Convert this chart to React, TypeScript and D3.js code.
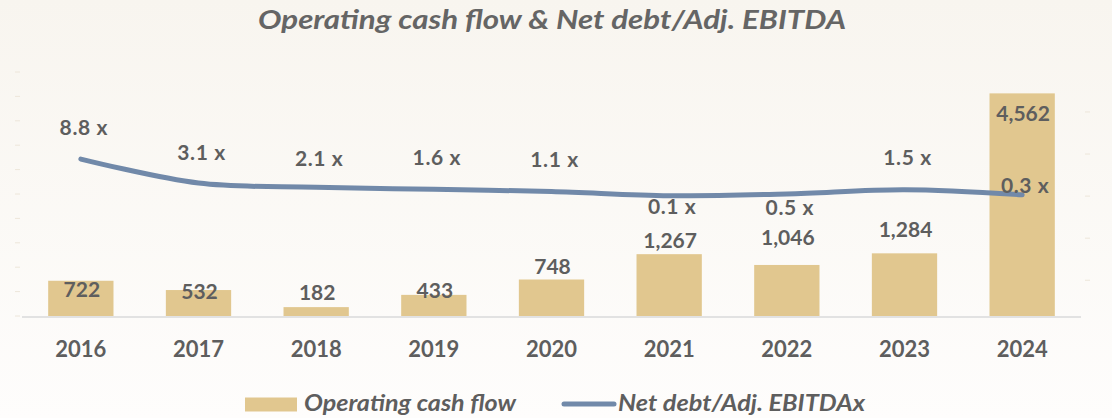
import { useMemo } from "react";
import * as d3 from "d3";

const years = ["2016", "2017", "2018", "2019", "2020", "2021", "2022", "2023", "2024"];
const operatingCashFlow = [722, 532, 182, 433, 748, 1267, 1046, 1284, 4562];
const netDebtEbitda = [8.8, 3.1, 2.1, 1.6, 1.1, 0.1, 0.5, 1.5, 0.3];
const leftTicks = d3.range(0, 5001, 500);
const rightTicks = [-20, -10, 0, 10, 20];

// manual label nudges (px, centre of label relative to bar top / line point)
const barLabelDy = [9, 1, -15, -4, -13, -14, -28, -24, 20];
const lineLabelDy = [-32, -31, -29, -32, -32, 11, 13, -32, -9];

const W = 1112;
const H = 418;
const plot = { left: 22, right: 1081, top: 72, bottom: 316 };
const barColor = "#e1c78f";
const lineColor = "#7189a9";
const textColor = "#5e5e5e";
const font = "Lato, 'Open Sans', sans-serif";

export default function App() {
  const x = useMemo(
    () => d3.scaleBand<string>().domain(years).range([plot.left, plot.right]).paddingInner(0.445).paddingOuter(0.2225),
    []
  );
  const y = d3.scaleLinear().domain([0, 5000]).range([plot.bottom, plot.top]);
  const y2 = d3.scaleLinear().domain([-28.5, 29.5]).range([plot.bottom, plot.top]);

  const cx = (d: string) => (x(d) ?? 0) + x.bandwidth() / 2;

  const line = d3
    .line<number>()
    .x((_, i) => cx(years[i]))
    .y((d) => y2(d))
    .curve(d3.curveCatmullRom.alpha(0.5));

  const fmt = d3.format(",");

  return (
    <svg width={W} height={H} style={{ position: "absolute", left: 0, top: 0, display: "block" }}>
      <defs>
        <linearGradient id="bg" x1="0" y1="0" x2="0" y2="1">
          <stop offset="0" stopColor="#f8f5ef" />
          <stop offset="1" stopColor="#fefdfc" />
        </linearGradient>
      </defs>
      <rect width={W} height={H} fill="url(#bg)" />

      <text
        x={258}
        y={28.5}
        textLength={588}
        lengthAdjust="spacingAndGlyphs"
        fontFamily={font}
        fontStyle="italic"
        fontWeight="bold"
        fontSize={26}
        fill="#656565"
      >
        Operating cash flow &amp; Net debt/Adj. EBITDA
      </text>

      {/* faint axis ticks */}
      <g stroke="#ede6da" strokeWidth={1}>
        {leftTicks.map((t) => (
          <line key={t} x1={15} x2={20} y1={y(t)} y2={y(t)} />
        ))}
        {rightTicks.map((t) => (
          <line key={t} x1={1085} x2={1090} y1={y2(t)} y2={y2(t)} />
        ))}
      </g>

      {years.map((yr, i) => (
        <rect
          key={yr}
          x={x(yr)}
          y={y(operatingCashFlow[i])}
          width={x.bandwidth()}
          height={plot.bottom - y(operatingCashFlow[i])}
          fill={barColor}
        />
      ))}

      <line x1={plot.left} x2={plot.right} y1={plot.bottom + 1} y2={plot.bottom + 1} stroke="#e2e2e2" strokeWidth={2} />

      <path d={line(netDebtEbitda) ?? ""} fill="none" stroke={lineColor} strokeWidth={5} strokeLinecap="round" />

      <g fontFamily={font} fontWeight="bold" fontSize={21} fill={textColor} textAnchor="middle">
        {years.map((yr, i) => (
          <text key={"b" + yr} x={cx(yr) + 1} y={y(operatingCashFlow[i]) + barLabelDy[i]} dy="0.36em">
            {fmt(operatingCashFlow[i])}
          </text>
        ))}
        {years.map((yr, i) => (
          <text
            key={"l" + yr}
            x={cx(yr) + 3}
            y={y2(netDebtEbitda[i]) + lineLabelDy[i]}
            dy="0.36em"
            letterSpacing={0.6}
          >
            {netDebtEbitda[i].toFixed(1)} x
          </text>
        ))}
      </g>

      <g fontFamily={font} fontWeight="bold" fontSize={22} fill={textColor} textAnchor="middle">
        {years.map((yr) => (
          <text key={yr} x={cx(yr)} y={357}>
            {yr}
          </text>
        ))}
      </g>

      <g fontFamily={font} fontWeight="bold" fontStyle="italic" fontSize={22} fill={textColor}>
        <rect x={245} y={397.5} width={52} height={14} fill={barColor} />
        <text x={304} y={411} textLength={212} lengthAdjust="spacingAndGlyphs">
          Operating cash flow
        </text>
        <line x1={564} x2={614} y1={404} y2={404} stroke={lineColor} strokeWidth={5} strokeLinecap="round" />
        <text x={618} y={411} textLength={247} lengthAdjust="spacingAndGlyphs">
          Net debt/Adj. EBITDAx
        </text>
      </g>
    </svg>
  );
}
